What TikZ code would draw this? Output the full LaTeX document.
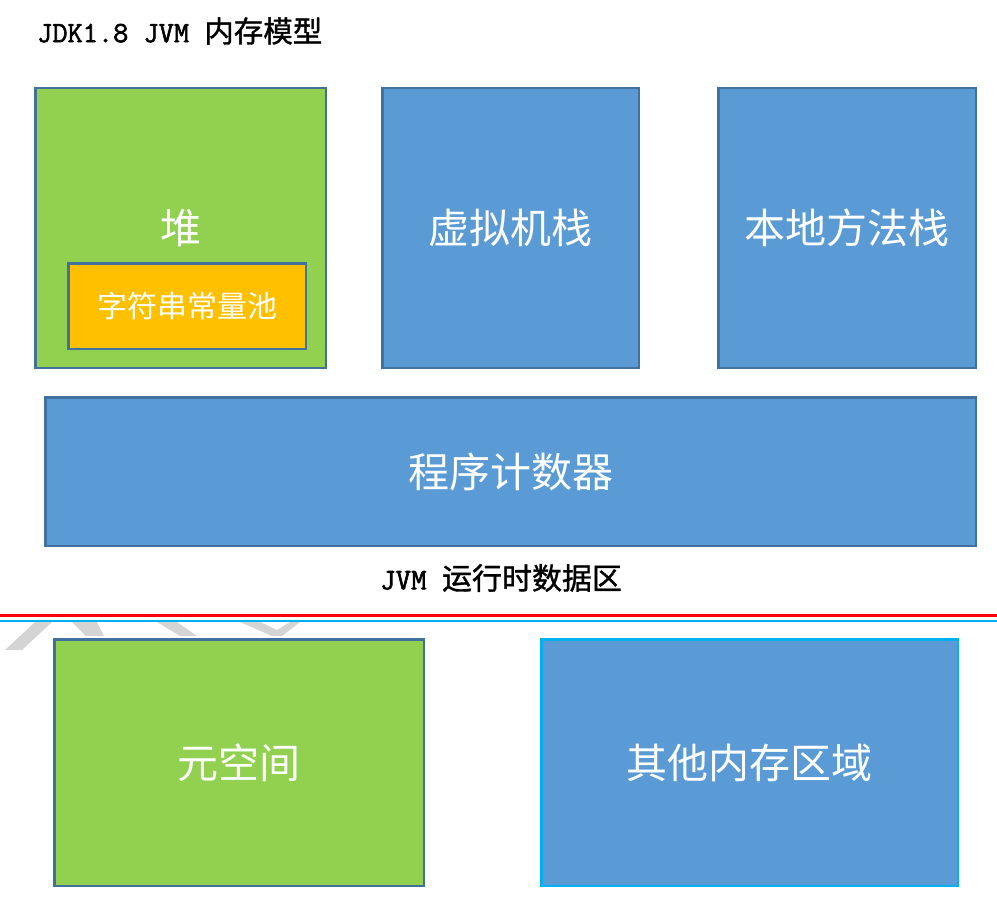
\documentclass[tikz,border=0pt]{standalone}
\usepackage{fontspec}
\newfontfamily\cjk{Noto Sans CJK SC}
\newfontfamily\cjkheavy{Noto Sans CJK SC}[FakeBold=1.2]
\newfontfamily\monoheavy{Latin Modern Mono}[FakeBold=2]
\definecolor{heapgreen}{HTML}{92D050}
\definecolor{poolorange}{HTML}{FFC000}
\definecolor{boxblue}{HTML}{5B9BD5}
\definecolor{edgeblue}{HTML}{41719C}
\definecolor{lightblue}{HTML}{00B0F0}
\definecolor{wmgrey}{HTML}{D4D4D4}
\tikzset{
  region/.style={draw=edgeblue, line width=2.5pt, inner sep=0pt, text=white,
    font=\cjk\fontsize{41}{46}\selectfont},
  poolbox/.style={region, fill=poolorange, font=\cjk\fontsize{30}{34}\selectfont},
  caption/.style={anchor=west, inner sep=0pt, text=black},
  sepred/.style={draw=red, line width=2.7pt},
  sepblue/.style={draw=lightblue, line width=2pt},
  watermark/.style={fill=wmgrey, draw=none}
}
\begin{document}
\begin{tikzpicture}[x=1pt,y=-1pt]
\useasboundingbox (0,0) rectangle (997,907);

% title
\node[caption] (title) at (37,31) {\fontsize{29.5}{33}\selectfont\monoheavy JDK1.8 JVM \cjkheavy 内存模型};

% runtime data area
\node[region, fill=heapgreen, minimum width=290.5pt, minimum height=279.5pt] (heap) at (180.5,228) {堆};
\node[poolbox, minimum width=237.5pt, minimum height=85.5pt] (pool) at (187,306) {字符串常量池};
\node[region, fill=boxblue, minimum width=256.5pt, minimum height=279.5pt] (vmstack) at (510.5,228) {虚拟机栈};
\node[region, fill=boxblue, minimum width=257.5pt, minimum height=279.5pt] (nstack) at (847,228) {本地方法栈};
\node[region, fill=boxblue, minimum width=930.5pt, minimum height=148.5pt] (pc) at (510.5,471.5) {程序计数器};

\node[caption] (rtlabel) at (380,578) {\fontsize{30}{34}\selectfont\monoheavy JVM \cjkheavy 运行时数据区};

% watermark fragments
\fill[watermark] (5,650) -- (22,650) -- (52,622) -- (35,622) -- cycle;
\fill[watermark] (72,622) -- (97,622) -- (104,636) -- (86,636) -- cycle;
\fill[watermark] (157,622) -- (177,622) -- (197,636) -- (180,636) -- cycle;
\fill[watermark] (240,622) -- (260,622) -- (277,630) -- (290,622) -- (300,622) -- (282,636) -- (272,636) -- cycle;

% separators
\coordinate (redL) at (0,615.5);
\coordinate (redR) at (997,615.5);
\coordinate (blueL) at (0,621);
\coordinate (blueR) at (997,621);
\draw[sepred] (redL) -- (redR);
\draw[sepblue] (blueL) -- (blueR);

% other areas
\node[region, fill=heapgreen, minimum width=369.5pt, minimum height=246.5pt] (meta) at (239,762.5) {元空间};
\node[region, fill=boxblue, draw=lightblue, minimum width=416.5pt, minimum height=246.5pt] (other) at (749.5,762.5) {其他内存区域};
\end{tikzpicture}
\end{document}
